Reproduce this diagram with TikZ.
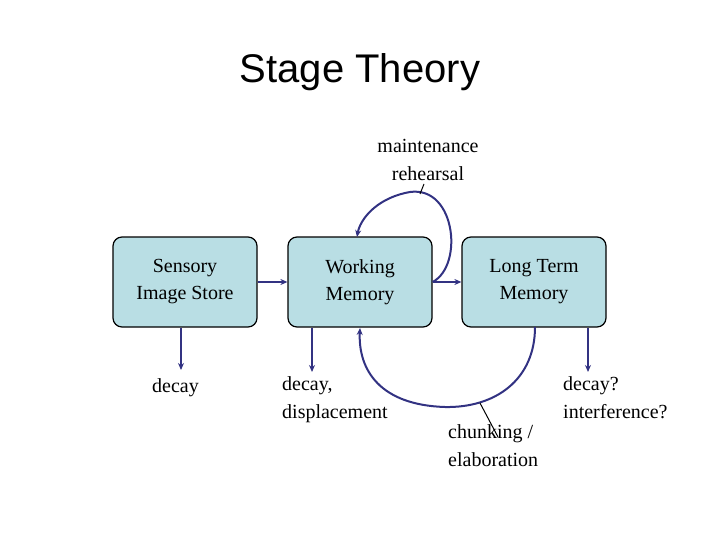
\documentclass[tikz,border=0pt]{standalone}
\usepackage{fontspec}
\setmainfont{Liberation Serif}
\newfontfamily\ttl{Liberation Sans}
\usetikzlibrary{arrows.meta}
\definecolor{boxfill}{RGB}{185,222,228}
\definecolor{arr}{RGB}{50,50,130}
\begin{document}
\begin{tikzpicture}[x=1pt,y=-1pt,
  box/.style={draw=black,line width=1.2pt,fill=boxfill,rounded corners=9pt,minimum width=144pt,minimum height=90pt,align=center,font=\fontsize{20}{27}\selectfont},
  lab/.style={font=\fontsize{20}{28}\selectfont,align=left,inner sep=0pt},
  a/.style={draw=arr,line width=2pt,-{Stealth[length=7pt,width=6pt]}}]
\useasboundingbox (0,0) rectangle (720,540);
\node[font=\ttl\fontsize{40}{44}\selectfont] (t) at (360,72) {Stage Theory};
\node[box] (s) at (185,282) {Sensory\\Image Store};
\node[box] (w) at (360,282) {Working\\Memory};
\node[box] (l) at (534,282) {Long Term\\Memory};
\node[lab,align=center] (m) at (428,160) {maintenance\\rehearsal};
\node[lab,anchor=west] (d1) at (152,388) {decay};
\node[lab,anchor=north west] (d2) at (282,376) {decay,\\displacement};
\node[lab,anchor=north west] (d3) at (563,376) {decay?\\interference?};
\node[lab,anchor=north west] (c) at (448,424) {chunking /\\elaboration};
\coordinate (s1) at (181,370);
\coordinate (w1) at (312,372);
\coordinate (l1) at (588,372);
\draw[a] (s.east) -- (w.west);
\draw[a] (w.east) -- (l.west);
\draw[a] (s.south -| s1) -- (s1);
\draw[a] (w.south -| w1) -- (w1);
\draw[a] (l.south -| l1) -- (l1);
\coordinate (wt) at (357,237);
\coordinate (wb) at (360,328);
\coordinate (lb) at (535,327);
\draw[a] (w.east) .. controls (465,265) and (455,180) .. (405,193) .. controls (375,200) and (360,220) .. (wt);
\draw[a] (lb) .. controls (535,380) and (495,408) .. (445,407) .. controls (380,405) and (358,370) .. (wb);
\draw[black,line width=1pt] (420,194) -- (424,184);
\draw[black,line width=1pt] (480,403) -- (498,437);
\end{tikzpicture}
\end{document}
